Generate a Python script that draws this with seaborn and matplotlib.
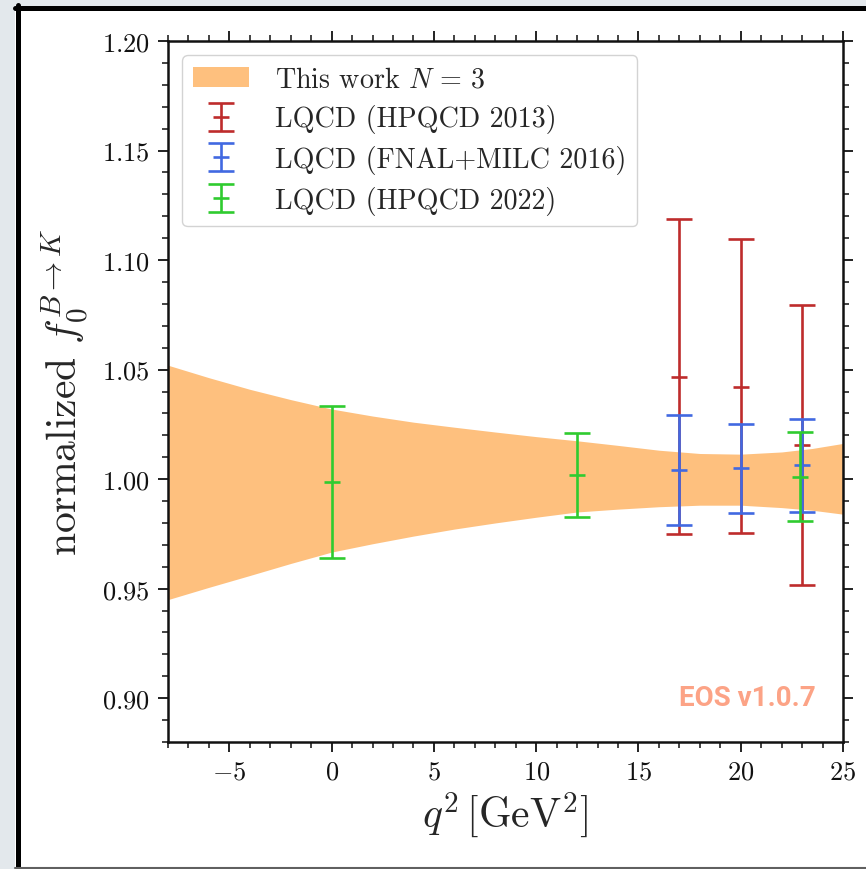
import numpy as np
import pandas as pd
import seaborn as sns
import matplotlib
matplotlib.use("Agg")
import matplotlib.pyplot as plt
from matplotlib.patches import Rectangle
from matplotlib.lines import Line2D
from matplotlib.ticker import MultipleLocator

# ---------------- data ----------------
band_q2 = [-8, -6, -4, -2, 0, 2, 4, 6, 8, 10, 12, 14, 16, 18, 20, 22, 23.5, 25]
band_upper = [1.052, 1.0463, 1.041, 1.0363, 1.032, 1.0288, 1.0260, 1.0237, 1.0215,
              1.0194, 1.0175, 1.0154, 1.0132, 1.0117, 1.0114, 1.0124, 1.0140, 1.0163]
band_lower = [0.945, 0.9506, 0.956, 0.9615, 0.9667, 0.9705, 0.9740, 0.9772, 0.9800,
              0.9826, 0.9850, 0.9863, 0.9874, 0.9881, 0.9881, 0.9870, 0.9858, 0.9840]

hp13_q2 = [17, 20, 23]
hp13_val = [1.0466, 1.0421, 1.0155]
hp13_hi = [1.1187, 1.1095, 1.0793]
hp13_lo = [0.9748, 0.9755, 0.9516]

fnal_q2 = [17, 20, 23]
fnal_val = [1.0041, 1.0050, 1.0063]
fnal_hi = [1.0295, 1.0253, 1.0275]
fnal_lo = [0.9790, 0.9846, 0.9850]

hp22_q2 = [0, 12, 22.9]
hp22_val = [0.9985, 1.0017, 1.0010]
hp22_hi = [1.0333, 1.0209, 1.0213]
hp22_lo = [0.9638, 0.9828, 0.9808]

labels = [r"This work $N\,=\,3$", "LQCD (HPQCD 2013)",
          "LQCD (FNAL+MILC 2016)", "LQCD (HPQCD 2022)"]

# ---------------- style ----------------
sns.set_style("ticks")
plt.rcParams.update({
    "font.family": "serif",
    "font.serif": ["cmr10", "DejaVu Serif"],
    "mathtext.fontset": "cm",
    "axes.formatter.use_mathtext": True,
    "axes.unicode_minus": True,
    "xtick.direction": "out",
    "ytick.direction": "out",
})

W, H = 866, 870
fig = plt.figure(figsize=(W / 100, H / 100), dpi=100, facecolor="#E3E8EC")

# white card with black left/top border (screenshot frame)
fig.patches.append(Rectangle((15 / W, 1 / H), 1, (863 - 1) / H,
                             transform=fig.transFigure, facecolor="white",
                             edgecolor="none", zorder=-10))
fig.lines.append(Line2D([17.5 / W, 17.5 / W], [1 / H, (H - 6) / H],
                        transform=fig.transFigure, color="black", lw=3.6))
fig.lines.append(Line2D([15 / W, 1], [(H - 8.5) / H, (H - 8.5) / H],
                        transform=fig.transFigure, color="black", lw=3.6))
fig.lines.append(Line2D([15 / W, 1], [1 / H, 1 / H],
                        transform=fig.transFigure, color="#606060", lw=1.5))

ax = fig.add_axes([168 / W, (H - 743) / H, 675 / W, 701 / H])

band_df = pd.DataFrame({"q2": band_q2, "lo": band_lower, "hi": band_upper})
ax.fill_between(band_df["q2"], band_df["lo"], band_df["hi"],
                color="#FEC07E", lw=0, label=labels[0], zorder=1)

def draw(q2, val, lo, hi, color, label, z):
    val = np.array(val); lo = np.array(lo); hi = np.array(hi)
    ax.errorbar(q2, val, yerr=[val - lo, hi - val], fmt="_", color=color,
                ms=12, mew=1.9, elinewidth=1.9, capsize=9.7, capthick=1.9,
                label=label, zorder=z)

draw(hp13_q2, hp13_val, hp13_lo, hp13_hi, "#BE2C2C", labels[1], 3)
draw(fnal_q2, fnal_val, fnal_lo, fnal_hi, "#4169E1", labels[2], 4)
draw(hp22_q2, hp22_val, hp22_lo, hp22_hi, "#2FCB2F", labels[3], 5)

ax.set_xlim(-8, 25)
ax.set_ylim(0.88, 1.20)
ax.xaxis.set_major_locator(MultipleLocator(5))
ax.xaxis.set_minor_locator(MultipleLocator(1))
ax.yaxis.set_major_locator(MultipleLocator(0.05))
ax.yaxis.set_minor_locator(MultipleLocator(0.01))
ax.tick_params(which="both", top=True, right=True, labeltop=False,
               labelright=False, colors="#111111")
ax.tick_params(which="major", length=7, width=1.3, labelsize=19, pad=6)
ax.tick_params(which="minor", length=4, width=1.1)
for s in ax.spines.values():
    s.set_linewidth(1.8)
    s.set_color("#111111")

ax.set_xlabel(r"$q^2\,[\mathrm{GeV}^2]$", fontsize=30, labelpad=4)
ax.set_ylabel(r"normalized $f_0^{B\to K}$", fontsize=30, labelpad=8)

ax.text(0.959, 0.063, "EOS v1.0.7", transform=ax.transAxes, ha="right",
        va="center", color="#FCA386", fontsize=20, fontweight="bold",
        family="Roboto", zorder=6)

leg = ax.legend(loc="upper left", fontsize=20.2, frameon=True, fancybox=True,
                edgecolor="#CCCCCC", framealpha=0.85, borderpad=0.4,
                labelspacing=0.42, handletextpad=0.9)

fig.savefig("out.png", dpi=100, facecolor=fig.get_facecolor())
